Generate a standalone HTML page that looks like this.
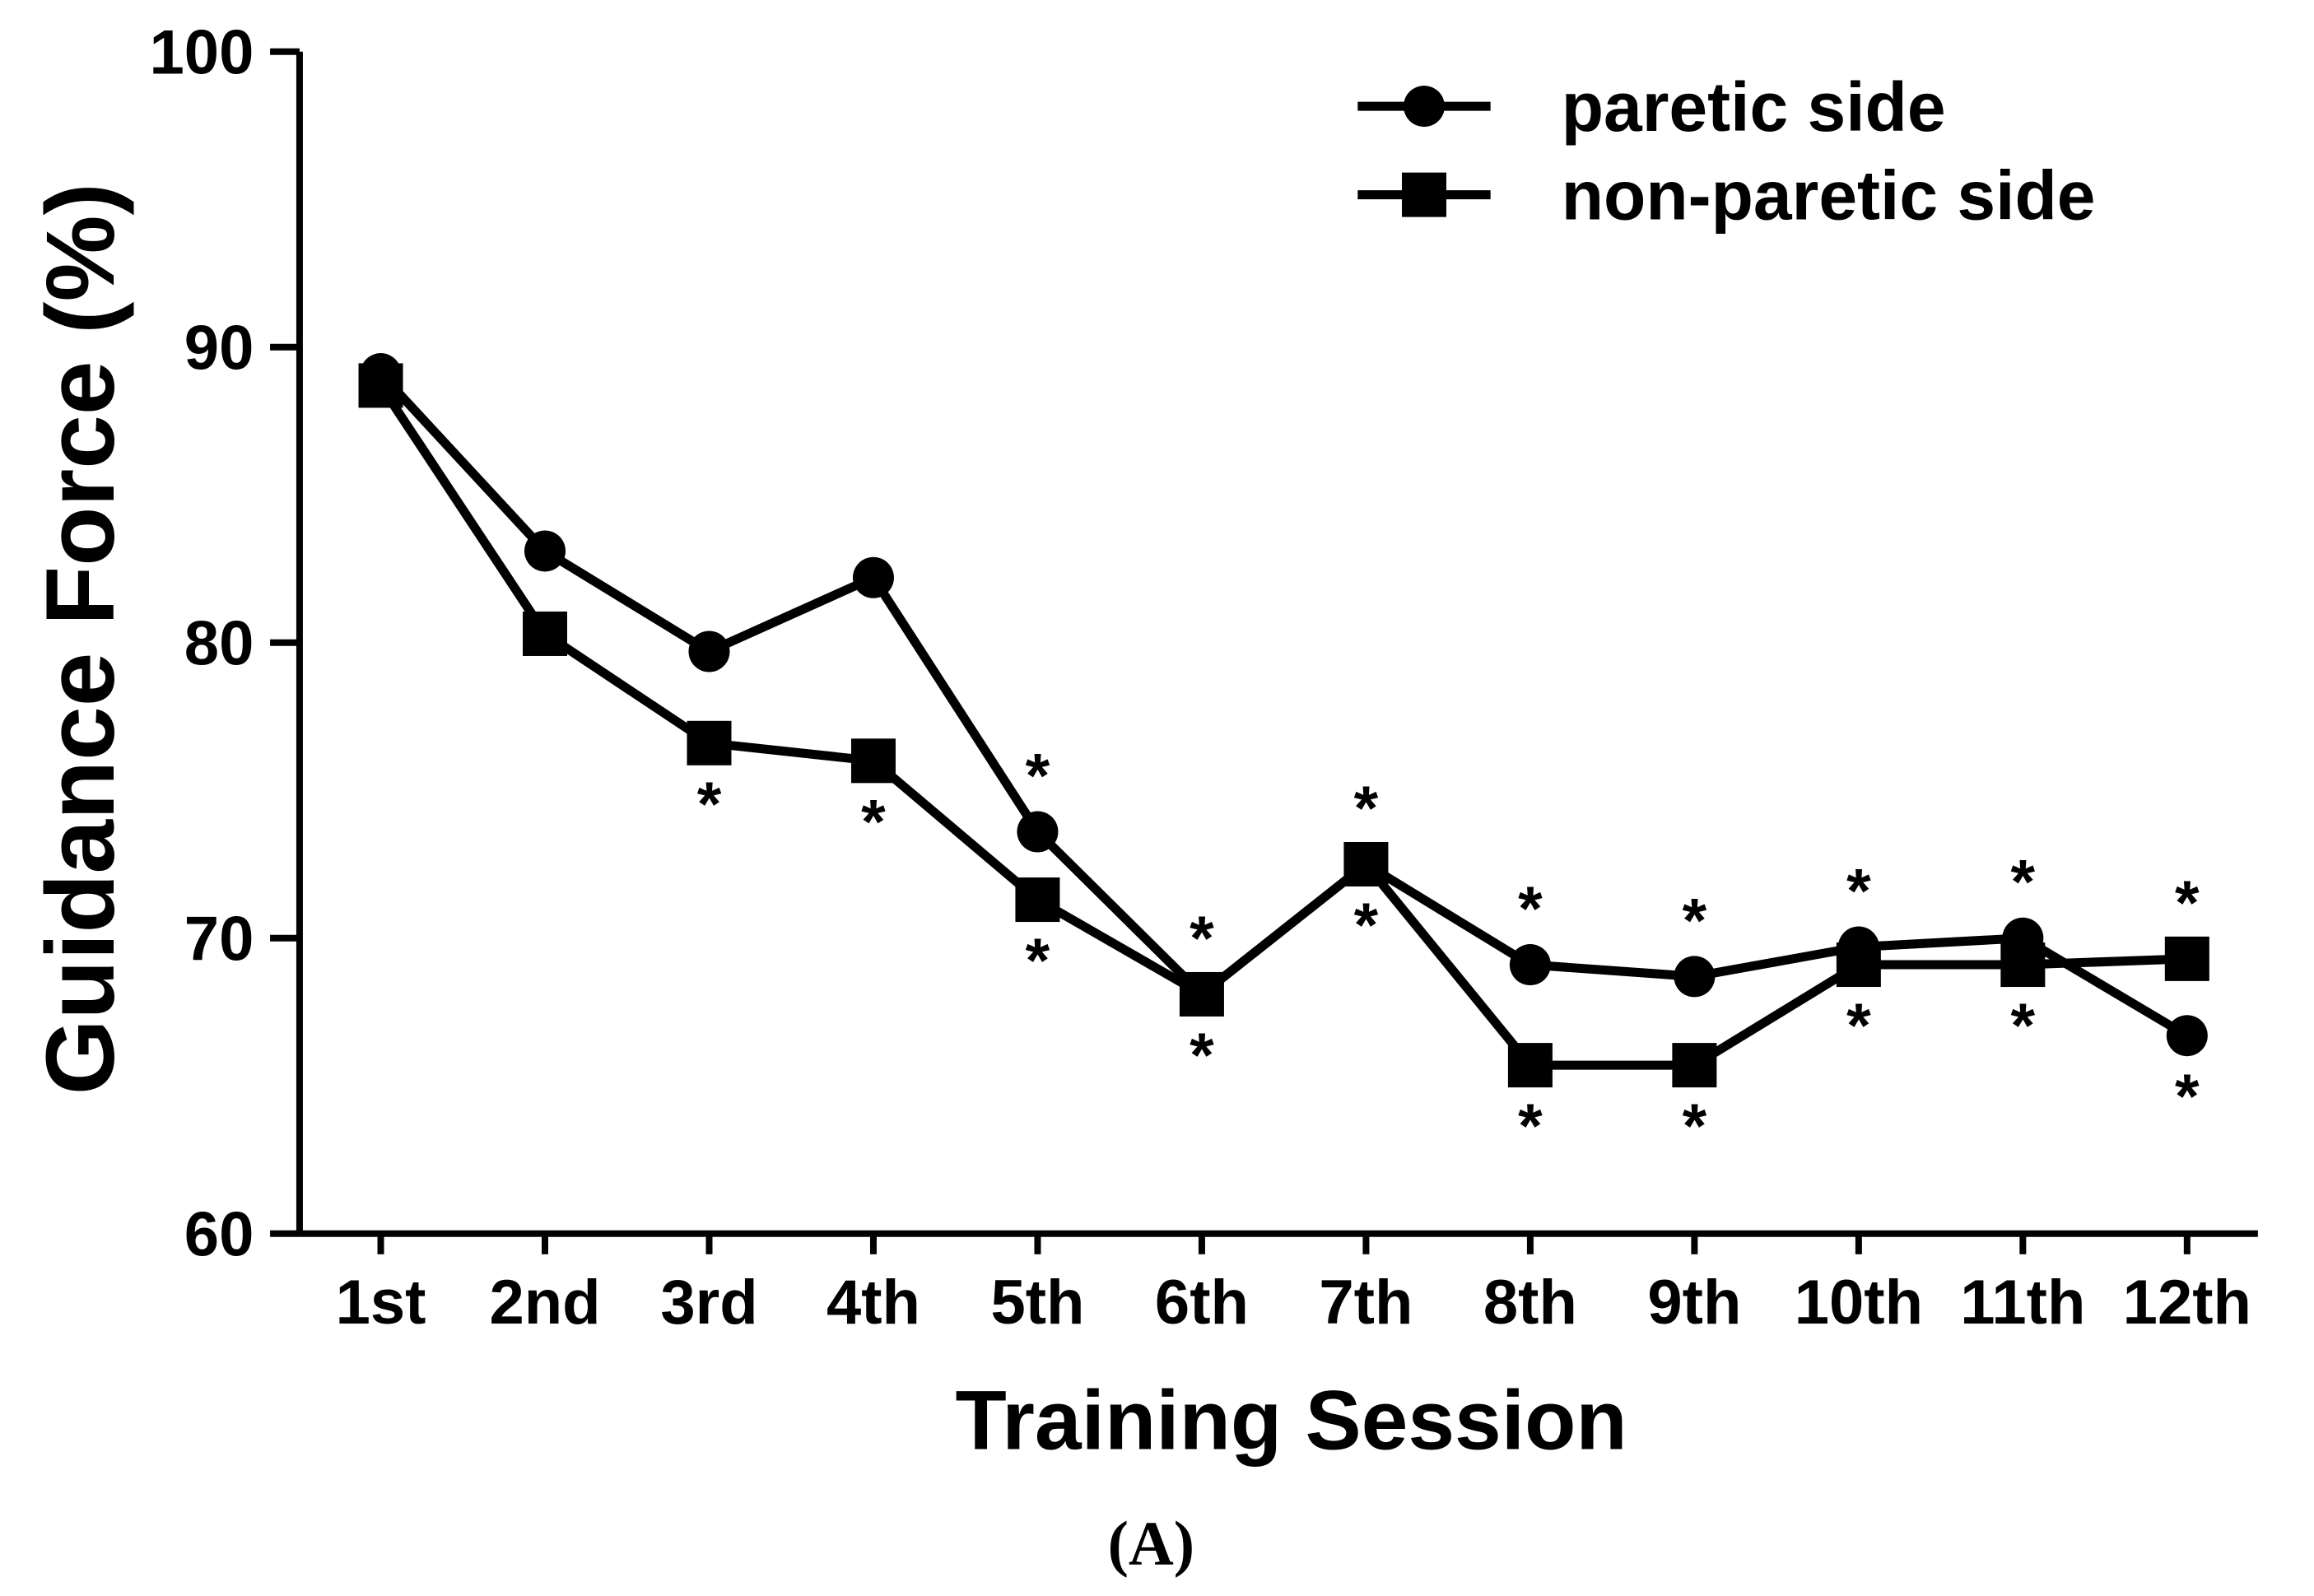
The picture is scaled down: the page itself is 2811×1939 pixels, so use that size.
<!DOCTYPE html>
<html><head><meta charset="utf-8"><style>
html,body{margin:0;padding:0;background:#fff;}
svg{display:block;font-family:"Liberation Sans",Arial,sans-serif;font-weight:bold;}
</style></head><body>
<svg id="chart" width="2811" height="1939" viewBox="0 0 2811 1939" xmlns="http://www.w3.org/2000/svg"></svg>
<script>
const categories = ["1st","2nd","3rd","4th","5th","6th","7th","8th","9th","10th","11th","12th"];
const pareticValues = [89.1,83.1,79.7,82.2,73.6,68.1,72.5,69.1,68.7,69.7,70.0,66.7];
const nonPareticValues = [88.7,80.3,76.6,76.0,71.3,68.1,72.5,65.7,65.7,69.1,69.1,69.3];
const yTicks = [60,70,80,90,100];
const sigAbove = [false,false,false,false,true,true,true,true,true,true,true,true];
const sigBelow = [false,false,true,true,true,true,true,true,true,true,true,true];

const NS="http://www.w3.org/2000/svg";
const svg=document.getElementById('chart');
const s=2811/1568;
const yMin=60,yMax=100;
const yTop=35*s, yBot=836*s, axX=203*s;
const x0=258*s, dx=(1482-258)*s/11;
function xs(i){return x0+i*dx;}
function ys(v){return yBot-(v-yMin)/(yMax-yMin)*(yBot-yTop);}
function mk(tag,attrs,parent){const e=document.createElementNS(NS,tag);for(const k in attrs)e.setAttribute(k,attrs[k]);(parent||svg).appendChild(e);return e;}

let yAxis=mk('line',{x1:axX,y1:yTop,x2:axX,y2:yBot,stroke:'#000','stroke-width':8});


let xAxis=mk('line',{x1:axX,y1:yBot,x2:1530*s,y2:yBot,stroke:'#000','stroke-width':8});



yTicks.forEach(v=>{
  const t=mk('line',{x1:axX-20*s,y1:ys(v),x2:axX,y2:ys(v),stroke:'#000','stroke-width':8});
  
  
  const l=mk('text',{x:172*s,y:ys(v)+27,'text-anchor':'end','font-size':76});
  l.textContent=v;
  
  
});
categories.forEach((c,i)=>{
  const t=mk('line',{x1:xs(i),y1:yBot,x2:xs(i),y2:yBot+14*s,stroke:'#000','stroke-width':8});
  
  
  const l=mk('text',{x:xs(i),y:897*s,'text-anchor':'middle','font-size':76});
  l.textContent=c;
  
  
});

let xt=mk('text',{x:875*s,y:982*s,'text-anchor':'middle','font-size':102});
xt.textContent='Training Session';


let yt=mk('text',{x:0,y:0,'text-anchor':'middle','font-size':118,transform:`translate(${77*s},${433*s}) rotate(-90)`});
yt.textContent='Guidance Force (%)';


let cap=mk('text',{x:780*s,y:1060*s,'text-anchor':'middle','font-size':76,'font-family':'"Liberation Serif",serif'});
cap.textContent='(A)';



function series(vals,name,shape){
  const pts=vals.map((v,i)=>xs(i)+','+ys(v)).join(' ');
  const pl=mk('polyline',{points:pts,fill:'none',stroke:'#000','stroke-width':11,'stroke-linejoin':'round'});
  
  
  vals.forEach((v,i)=>{
    let m;
    if(shape==='circle') m=mk('circle',{cx:xs(i),cy:ys(v),r:25,fill:'#000'});
    else m=mk('rect',{x:xs(i)-27,y:ys(v)-27,width:54,height:54,fill:'#000'});
    
    
  });
}
series(pareticValues,'paretic','circle');
series(nonPareticValues,'non-paretic','square');

categories.forEach((c,i)=>{
  const hi=Math.max(pareticValues[i],nonPareticValues[i]);
  const lo=Math.min(pareticValues[i],nonPareticValues[i]);
  if(sigAbove[i]){
    const a=mk('text',{x:xs(i),y:ys(hi)-42,'text-anchor':'middle','font-size':76});
    a.textContent='*';
    
    
  }
  if(sigBelow[i]){
    const a=mk('text',{x:xs(i),y:ys(lo)+100,'text-anchor':'middle','font-size':76});
    a.textContent='*';
    
    
  }
});

[['paretic side','circle',72],['non-paretic side','square',132]].forEach(([label,shape,y])=>{
  const g=mk('g',{});
  
  
  mk('line',{x1:920*s,y1:y*s,x2:1010*s,y2:y*s,stroke:'#000','stroke-width':11},g);
  if(shape==='circle') mk('circle',{cx:965*s,cy:y*s,r:25,fill:'#000'},g);
  else mk('rect',{x:965*s-27,y:y*s-27,width:54,height:54,fill:'#000'},g);
  const t=mk('text',{x:1058*s,y:y*s+30,'font-size':84},g);
  t.textContent=label;
});
</script>
</body></html>
